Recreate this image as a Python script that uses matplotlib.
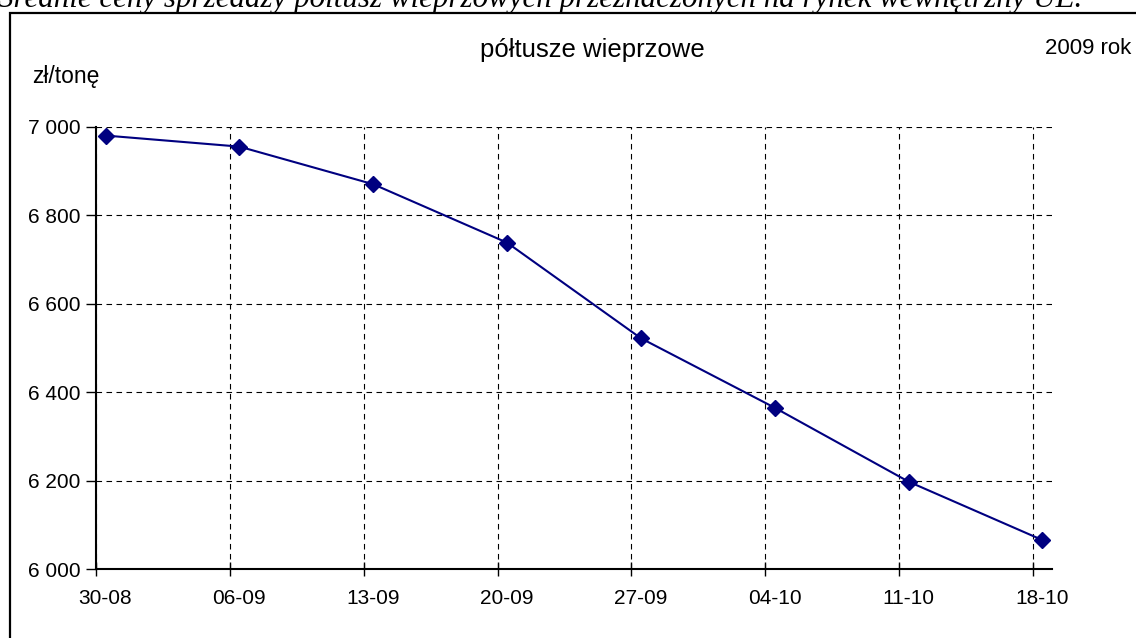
import matplotlib
matplotlib.use("Agg")
import matplotlib.pyplot as plt
from matplotlib.patches import Rectangle

# Data
dates = ["30-08", "06-09", "13-09", "20-09", "27-09", "04-10", "11-10", "18-10"]
prices = [6980, 6955, 6870, 6738, 6522, 6365, 6198, 6066]
yticks = [6000, 6200, 6400, 6600, 6800, 7000]
ytick_labels = ["6 000", "6 200", "6 400", "6 600", "6 800", "7 000"]

caption = "Średnie ceny sprzedaży półtusz wieprzowych przeznaczonych na rynek wewnętrzny UE."
title = "półtusze wieprzowe"
year_text = "2009 rok"
unit_text = "zł/tonę"

plt.rcParams['font.family'] = ['Liberation Sans', 'DejaVu Sans']

W, H = 1136, 638
fig = plt.figure(figsize=(W / 100, H / 100), dpi=100)

# outer frame (clipped at right/bottom)
fig.patches.append(Rectangle((10 / W, -0.05), 1.2, 1 - 13 / H + 0.05,
                             transform=fig.transFigure, fill=False,
                             edgecolor='black', linewidth=1.6, zorder=0))

left, right = 96 / W, 1052 / W
bottom, top = 1 - 569.3 / H, 1 - 126.7 / H
ax = fig.add_axes([left, bottom, right - left, top - bottom])

n = len(dates)
tick_pos = [7 * i for i in range(n)]
pt_pos = [7 * i + 0.5 for i in range(n)]

ax.plot(pt_pos, prices, color='#000080', linewidth=1.5, marker='D',
        markersize=8, markerfacecolor='#000080', markeredgecolor='#000080',
        zorder=3, clip_on=False)

ax.set_xlim(0, 50)
ax.set_ylim(6000, 7000)

ax.set_xticks(tick_pos)
ax.set_xticklabels([""] * n)
ax.set_xticks(pt_pos, minor=True)
ax.set_xticklabels(dates, minor=True)
ax.tick_params(axis='x', which='major', direction='inout', length=10, width=1, color='black')
ax.tick_params(axis='x', which='minor', length=0, pad=14, labelsize=15)

ax.set_yticks(yticks)
ax.set_yticklabels(ytick_labels)
ax.tick_params(axis='y', which='major', direction='out', length=7, width=1, labelsize=15, pad=4)

ax.grid(True, which='major', color='black', linestyle=(0, (5, 4)), linewidth=0.8)
for s in ['top', 'right']:
    ax.spines[s].set_visible(False)
for s in ['left', 'bottom']:
    ax.spines[s].set_linewidth(1.5)
    ax.spines[s].set_zorder(4)

fig.text(592 / W, 1 - 50 / H, title, ha='center', va='center', fontsize=18.5)
fig.text(1131 / W, 1 - 48 / H, year_text, ha='right', va='center', fontsize=16)
fig.text(32 / W, 1 - 76 / H, unit_text, ha='left', va='center', fontsize=16.5)
fig.text(-2 / W, 1 - 7 / H, caption, ha='left', va='baseline', fontsize=22.3,
         family=['Liberation Serif', 'DejaVu Serif'], style='italic')

fig.savefig("out.png", dpi=100)
